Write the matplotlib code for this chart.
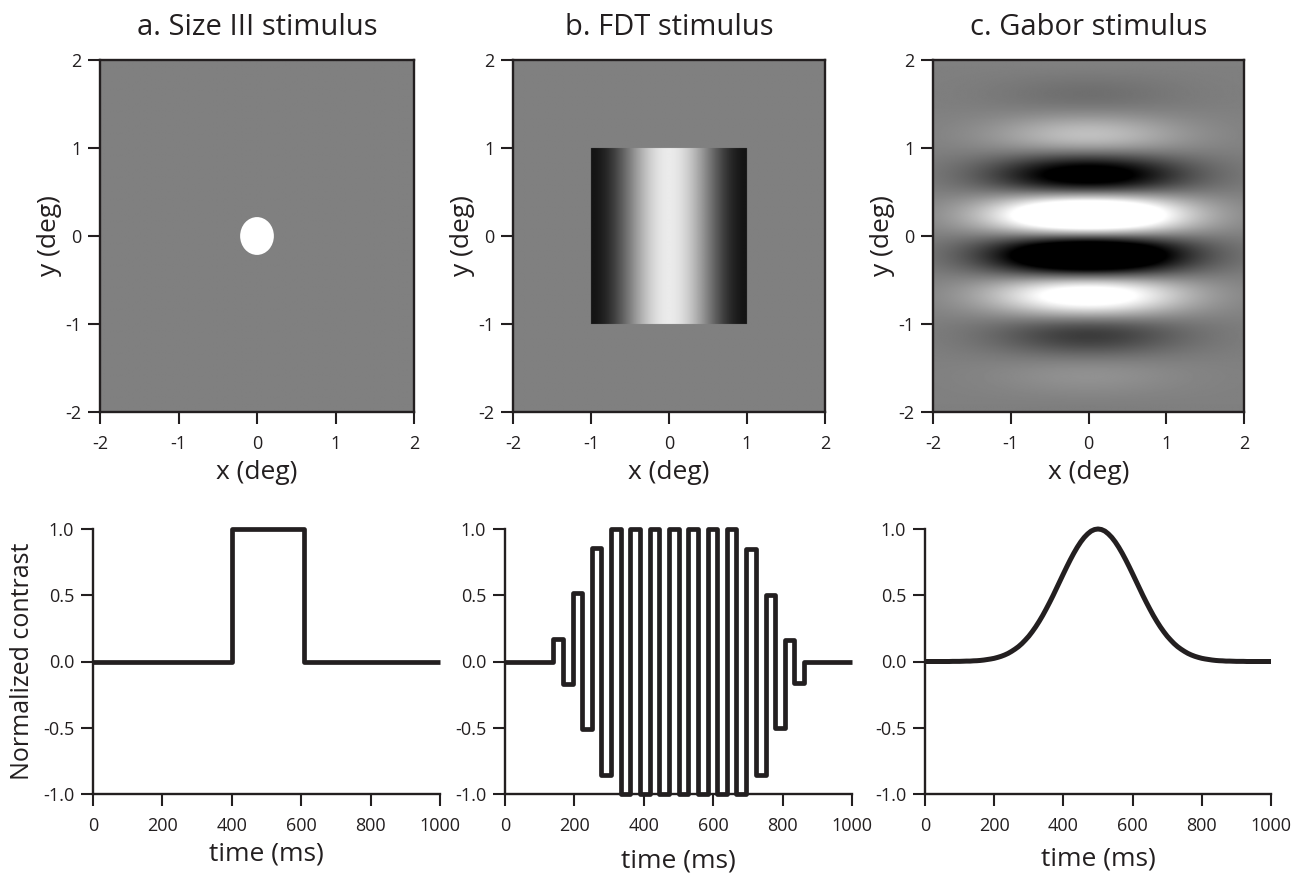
import numpy as np
import matplotlib
matplotlib.use("Agg")
import matplotlib.pyplot as plt
from matplotlib.patches import Ellipse

plt.rcParams['font.family'] = ['Open Sans', 'DejaVu Sans']
plt.rcParams['axes.unicode_minus'] = False

INK = '#231f20'
GRAY = 0.5

# titles
titles = ['a. Size III stimulus', 'b. FDT stimulus', 'c. Gabor stimulus']

# size III: white spot, 0.43 deg diameter
spot_diam = 0.43

# FDT: vertical grating patch from -1 to 1 deg
fdt_half = 1.0
fdt_amp = 0.42

# Gabor: horizontal stripes
gab_freq = 1.04     # cycles/deg
gab_phase_y = 0.01
gab_sx = 0.85
gab_sy = 0.70
gab_amp = 2.1       # clipped contrast

# temporal profiles
size3_edges = [0, 400, 607, 1000]
size3_levels = [0, 1, 0]

fdt_edges = [0, 139, 167, 195, 222, 250, 278, 306, 334, 361, 389, 417, 445, 473, 500,
             528, 556, 584, 612, 639, 667, 695, 723, 751, 778, 806, 834, 862, 1000]
fdt_levels = [0, 0.17, -0.17, 0.52, -0.51, 0.86, -0.86, 1, -1, 1, -1, 1, -1, 1, -1,
              1, -1, 1, -1, 1, -1, 0.85, -0.86, 0.50, -0.50, 0.16, -0.16, 0]

# gaussian contrast envelope, read every 10 ms (0..500, symmetric about 500)
gabor_t = list(range(0, 1001, 10))
gabor_half = [0.000, 0.000, 0.000, 0.000, 0.000, 0.000, 0.000, 0.000, 0.001, 0.001,
              0.001, 0.002, 0.003, 0.003, 0.005, 0.006, 0.008, 0.011, 0.015, 0.019,
              0.024, 0.031, 0.039, 0.049, 0.061, 0.076, 0.093, 0.112, 0.135, 0.162,
              0.191, 0.225, 0.262, 0.303, 0.347, 0.395, 0.445, 0.497, 0.552, 0.607,
              0.662, 0.716, 0.768, 0.817, 0.862, 0.902, 0.936, 0.963, 0.984, 0.996,
              1.000]
gabor_c = gabor_half + gabor_half[-2::-1]

W, H = 1294, 876
fig = plt.figure(figsize=(W / 100, H / 100), dpi=100)


def px_axes(l, r, t, b):
    return fig.add_axes([l / W, (H - b) / H, (r - l) / W, (b - t) / H])


def style(ax, top=True):
    for s in ax.spines.values():
        s.set_linewidth(1.7)
        s.set_color(INK)
    if not top:
        ax.spines['top'].set_visible(False)
        ax.spines['right'].set_visible(False)
    ax.tick_params(direction='out', length=8.5, width=1.5, color=INK,
                   labelsize=13, labelcolor=INK)
    ax.tick_params(axis='x', pad=8)
    ax.tick_params(axis='y', pad=5)


# top row
top_pos = [(100, 414), (513, 825), (933, 1244)]
n = 400
xs = np.linspace(-2, 2, n)
X, Y = np.meshgrid(xs, xs[::-1])

imgs = []
img_a = np.full_like(X, GRAY)
imgs.append(img_a)

img_b = np.full_like(X, GRAY)
inside = (np.abs(X) <= fdt_half) & (np.abs(Y) <= fdt_half)
img_b[inside] = (GRAY + fdt_amp * np.cos(np.pi * X))[inside]
imgs.append(img_b)

env = np.exp(-X ** 2 / (2 * gab_sx ** 2) - Y ** 2 / (2 * gab_sy ** 2))
img_c = GRAY + 0.5 * np.clip(gab_amp * env * np.sin(2 * np.pi * gab_freq * (Y - gab_phase_y)), -1, 1)
imgs.append(img_c)

for i, (l, r) in enumerate(top_pos):
    ax = px_axes(l, r, 60, 412)
    ax.imshow(imgs[i], cmap='gray', vmin=0, vmax=1, extent=(-2, 2, -2, 2),
              aspect='auto', interpolation='bilinear')
    if i == 0:
        ax.add_patch(Ellipse((0, 0), spot_diam, spot_diam, color='white', lw=0))
    ax.set_xlim(-2, 2)
    ax.set_ylim(-2, 2)
    ax.set_xticks([-2, -1, 0, 1, 2])
    ax.set_yticks([-2, -1, 0, 1, 2])
    style(ax)
    ax.set_xlabel('x (deg)', fontsize=19, labelpad=5, color=INK)
    ax.set_ylabel('y (deg)', fontsize=19, labelpad=2, color=INK)
    ax.set_title(titles[i], fontsize=21, pad=18, color=INK)

# bottom row
bot_pos = [(93, 440), (505, 852), (925, 1271)]
time_pads = [5, 10, 8]
for i, (l, r) in enumerate(bot_pos):
    ax = px_axes(l, r, 529, 794)
    if i == 0:
        st = ax.stairs(size3_levels, size3_edges, baseline=None, color=INK, lw=3.4)
    elif i == 1:
        st = ax.stairs(fdt_levels, fdt_edges, baseline=None, color=INK, lw=3.4)
    else:
        st, = ax.plot(gabor_t, gabor_c, color=INK, lw=3.6, solid_capstyle='butt')
    st.set_clip_on(False)
    if i < 2:
        st.set_joinstyle('round')
    ax.set_xlim(0, 1000)
    ax.set_ylim(-1, 1)
    ax.set_xticks([0, 200, 400, 600, 800, 1000])
    ax.set_yticks([-1.0, -0.5, 0.0, 0.5, 1.0])
    ax.set_yticklabels(['-1.0', '-0.5', '0.0', '0.5', '1.0'])
    style(ax, top=False)
    ax.set_xlabel('time (ms)', fontsize=19, labelpad=time_pads[i], color=INK)
    if i == 0:
        ax.set_ylabel('Normalized contrast', fontsize=18, labelpad=6, color=INK)

fig.savefig('out.png', dpi=100)
